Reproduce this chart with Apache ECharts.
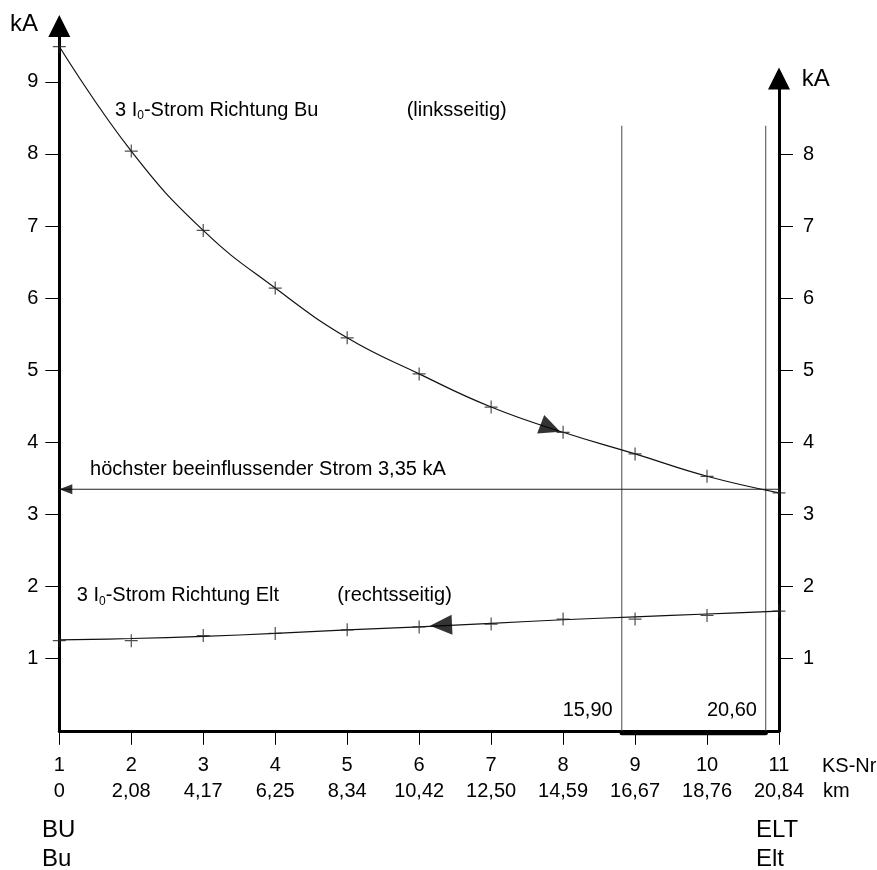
<!DOCTYPE html>
<html><head><meta charset="utf-8">
<script src="https://cdn.jsdelivr.net/npm/echarts@6/dist/echarts.min.js"></script>
<style>html,body{margin:0;padding:0;background:#fff}#c{width:877px;height:870px}</style>
</head><body><div id="c"></div><script>
// ---- data ----
const ksNr = [1, 2, 3, 4, 5, 6, 7, 8, 9, 10, 11];
const kmLabels = ['0', '2,08', '4,17', '6,25', '8,34', '10,42', '12,50', '14,59', '16,67', '18,76', '20,84'];
const stromBu = [9.49, 8.04, 6.94, 6.14, 5.45, 4.95, 4.49, 4.14, 3.84, 3.53, 3.30];        // linksseitig (points + curve)
const stromElt = [1.25, 1.25, 1.32, 1.35, 1.40, 1.44, 1.48, 1.55, 1.55, 1.60, 1.66];       // rechtsseitig (measured points)
const kurveElt = [1.26, 1.28, 1.31, 1.35, 1.40, 1.44, 1.49, 1.54, 1.58, 1.62, 1.66];       // rechtsseitig (drawn curve)
const yTicksLeft = [1, 2, 3, 4, 5, 6, 7, 8, 9];
const yTicksRight = [1, 2, 3, 4, 5, 6, 7, 8];
const maxStrom = 3.35;
const abschnittKS = [8.815, 10.815];      // KS positions of 15,90 km and 20,60 km
const abschnittLabels = ['15,90', '20,60'];
const abschnittTop = 8.39;
const arrowBu = [7.825, 4.20];
const arrowElt = [6.304, 1.465];

// ---- chart ----
const FONT = '"Liberation Sans", Arial, Helvetica, sans-serif';
const crossSym = 'path://M0,6.5L13,6.5M6.5,0L6.5,13';
const triSym = 'path://M0,0L20,10L0,20Z';
const chart = echarts.init(document.getElementById('c'), null, {renderer: 'canvas'});

function curve(vals, smooth) {
  return {
    type: 'line', xAxisIndex: 0, yAxisIndex: 0,
    data: ksNr.map((k, i) => [k, vals[i]]),
    smooth: smooth, symbol: 'none',
    lineStyle: {color: '#111', width: 1.2},
    emphasis: {disabled: true}, silent: true, clip: false, z: 3
  };
}
function points(vals) {
  return {
    type: 'scatter', xAxisIndex: 0, yAxisIndex: 0,
    data: ksNr.map((k, i) => [k, vals[i]]),
    symbol: crossSym, symbolSize: 13,
    itemStyle: {color: 'rgba(0,0,0,0)', borderColor: '#222', borderWidth: 1.2},
    emphasis: {disabled: true}, silent: true, clip: false, z: 4
  };
}
function arrow(pt, rot, size, offset) {
  return {
    type: 'scatter', xAxisIndex: 0, yAxisIndex: 0, data: [pt],
    symbol: triSym, symbolSize: size, symbolRotate: rot, symbolOffset: offset || [0, 0],
    itemStyle: {color: '#000'}, emphasis: {disabled: true}, silent: true, clip: false, z: 5
  };
}
function seg(a, b, color, width, cap) {
  return {
    type: 'line', xAxisIndex: 0, yAxisIndex: 0, data: [a, b], symbol: 'none',
    lineStyle: {color, width, cap: cap || 'butt'}, silent: true, clip: false, z: 2
  };
}

const axisTxt = {color: '#000', fontSize: 20, fontFamily: FONT};
const option = {
  animation: false,
  grid: [
    {left: 59.3, right: 98, top: 26, bottom: 139.2},
    {left: 59.3, right: 98, top: 78.5, bottom: 139.2}
  ],
  xAxis: [
    {
      type: 'value', gridIndex: 0, min: 1, max: 11, interval: 1,
      axisLine: {show: true, onZero: false, lineStyle: {color: '#000', width: 3}},
      axisTick: {show: true, length: 14, lineStyle: {color: '#000', width: 1}},
      axisLabel: Object.assign({
        margin: 22, lineHeight: 25.5,
        formatter: v => v + '\n' + kmLabels[ksNr.indexOf(v)]
      }, axisTxt),
      splitLine: {show: false}
    },
    {type: 'value', gridIndex: 1, min: 1, max: 11, show: false}
  ],
  yAxis: [
    {
      type: 'value', gridIndex: 0, position: 'left', min: 0, max: 9.775,
      axisLine: {show: true, onZero: false, symbol: ['none', 'triangle'], symbolSize: [22, 22],
        lineStyle: {color: '#000', width: 3}},
      axisTick: {show: true, length: 14, customValues: yTicksLeft, lineStyle: {color: '#000', width: 1}},
      axisLabel: Object.assign({margin: 21, customValues: yTicksLeft}, axisTxt),
      splitLine: {show: false}
    },
    {
      type: 'value', gridIndex: 1, position: 'right', min: 0, max: 9.047,
      axisLine: {show: true, onZero: false, symbol: ['none', 'triangle'], symbolSize: [22, 22],
        lineStyle: {color: '#000', width: 3}},
      axisTick: {show: true, length: 14, customValues: yTicksRight, lineStyle: {color: '#000', width: 1}},
      axisLabel: Object.assign({margin: 24, customValues: yTicksRight}, axisTxt),
      splitLine: {show: false}
    }
  ],
  series: [
    seg([abschnittKS[0], 0], [abschnittKS[0], abschnittTop], '#666', 1.2),
    seg([abschnittKS[1], 0], [abschnittKS[1], abschnittTop], '#666', 1.2),
    seg([abschnittKS[0], -0.03], [abschnittKS[1], -0.03], '#000', 4.5, 'round'),
    seg([ksNr[ksNr.length - 1], maxStrom], [ksNr[0], maxStrom], '#222', 1.2),
    curve(stromBu, 0.45),
    points(stromBu),
    curve(kurveElt, 0.4),
    points(stromElt),
    arrow(arrowBu, -20.8, [21, 20]),
    arrow(arrowElt, 182.6, [22, 20]),
    arrow([ksNr[0], maxStrom], 180, [13, 10], [6.5, 0])
  ]
};
chart.setOption(option);

function P(x, y) { return chart.convertToPixel({xAxisIndex: 0, yAxisIndex: 0}, [x, y]); }
const texts = [
  {t: '3 I{s|0}-Strom Richtung Bu', x: 1.774, y: 8.61},
  {t: '(linksseitig)', x: 5.827, y: 8.61},
  {t: 'höchster beeinflussender Strom ' + String(maxStrom).replace('.', ',') + ' kA', x: 1.427, y: 3.63},
  {t: '3 I{s|0}-Strom Richtung Elt', x: 1.242, y: 1.87},
  {t: '(rechtsseitig)', x: 4.863, y: 1.87},
  {t: abschnittLabels[0], x: 8.689, y: 0.288, align: 'right'},
  {t: abschnittLabels[1], x: 10.694, y: 0.288, align: 'right'},
  {t: 'KS-Nr', x: 11.597, y: -0.488},
  {t: 'km', x: 11.61, y: -0.845},
  {t: 'BU', x: 0.76, y: -1.383, size: 24},
  {t: 'Bu', x: 0.76, y: -1.79, size: 24},
  {t: 'ELT', x: 10.68, y: -1.383, size: 24},
  {t: 'Elt', x: 10.68, y: -1.79, size: 24},
  {t: 'kA', x: 0.315, y: 9.80, size: 24},
  {t: 'kA', x: 11.315, y: 9.03, size: 24}
];
chart.setOption({
  graphic: texts.map(o => {
    const p = P(o.x, o.y);
    return {
      type: 'text', x: p[0], y: p[1], silent: true, z: 10,
      style: {
        text: o.t, fill: '#000', fontSize: o.size || 20, fontFamily: FONT,
        align: o.align || 'left', verticalAlign: 'middle', lineHeight: 24,
        rich: {s: {fontSize: 12, lineHeight: 10, verticalAlign: 'bottom', fill: '#000', fontFamily: FONT}}
      }
    };
  })
});
</script></body></html>
